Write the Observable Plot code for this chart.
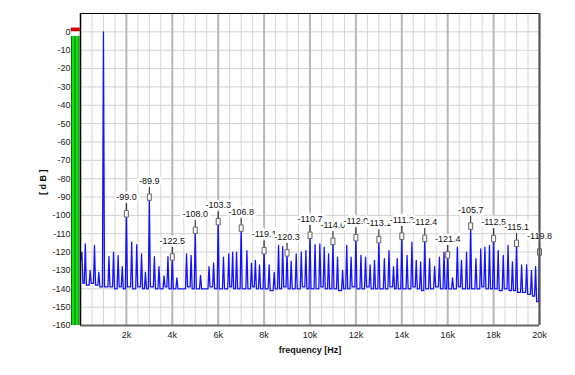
<!DOCTYPE html>
<html>
<head>
<meta charset="utf-8">
<script src="https://cdn.jsdelivr.net/npm/d3@7"></script>
<script src="https://cdn.jsdelivr.net/npm/@observablehq/plot@0.6"></script>
<style>
  html, body { margin: 0; padding: 0; background: #fff; }
  #chart svg { display: block; }
</style>
</head>
<body>
<div id="chart"></div>
<script>
// ---- data ----
// spectrum peaks (Hz, dB) and noise-floor level following each peak (dB)
const peakHz = [60, 210, 420, 610, 800, 1000, 1240, 1440, 1640, 1820,
  2000, 2230, 2450, 2660, 2830, 3000, 3220, 3420, 3640, 3810,
  4000, 4200, 4620, 4820, 5000, 5230, 5600, 5800, 6000, 6230,
  6460, 6630, 6800, 7000, 7250, 7450, 7620, 7800, 8000, 8220,
  8440, 8630, 8810, 9000, 9180, 9400, 9620, 9820, 10000, 10220,
  10430, 10620, 10810, 11000, 11200, 11420, 11600, 11790, 12000, 12220,
  12420, 12620, 12810, 13000, 13240, 13440, 13640, 13800, 14000, 14230,
  14440, 14630, 14820, 15000, 15210, 15430, 15640, 15840, 16000, 16210,
  16420, 16600, 16820, 17000, 17230, 17440, 17620, 17820, 18000, 18200,
  18420, 18630, 18820, 19000, 19220, 19440, 19650, 19830, 20000];
const peakDb = [-120, -115.5, -130, -116.4, -131, 0, -122.4, -120, -122, -128,
  -99.0, -114.6, -116, -121, -131, -89.9, -122.5, -128, -133, -122.5,
  -122.5, -134, -121, -121.8, -108.0, -132.7, -128, -126, -103.3, -122.8,
  -121, -120, -120, -106.8, -119.2, -126, -124.5, -127, -119.1, -127,
  -131, -116.4, -117, -120.3, -125, -121, -120, -119.2, -110.7, -115.9,
  -115.5, -117.3, -121, -114.0, -122.8, -130, -116.4, -122.8, -112.0, -121.8,
  -122.8, -127, -124.5, -113.1, -123.6, -119.2, -128, -123.6, -111.2, -121.8,
  -114.6, -124.5, -125.4, -112.4, -123.6, -128, -122.8, -120, -121.4, -134,
  -117.3, -124.5, -120, -105.7, -123.6, -118.3, -117.3, -116.4, -112.5, -119.2,
  -121.8, -116.4, -125.4, -115.1, -127, -127, -130, -128, -119.8];
const floorDb = [-137, -138, -137, -138, -139, -139, -139, -140, -139, -140,
  -139, -140, -139, -140, -140, -139, -140, -140, -139, -140,
  -140, -140, -139, -140, -140, -140, -139, -140, -140, -140,
  -139, -140, -140, -140, -140, -139, -140, -140, -140, -141,
  -140, -140, -139, -140, -140, -140, -139, -140, -140, -140,
  -139, -140, -140, -140, -141, -140, -140, -139, -140, -140,
  -139, -140, -140, -140, -140, -139, -140, -140, -140, -140,
  -139, -140, -141, -140, -140, -139, -140, -140, -140, -140,
  -139, -140, -140, -140, -140, -139, -140, -140, -140, -141,
  -140, -141, -141, -142, -142, -143, -144, -147];
const startDb = -125;

// labelled harmonics
const harmonicHz = [2000, 3000, 4000, 5000, 6000, 7000, 8000, 9000, 10000, 11000,
  12000, 13000, 14000, 15000, 16000, 17000, 18000, 19000, 20000];

// level meter
const meterDb = -2.5;
const clipDb = [0.2, 1.9];

// axes
const xDomain = [0, 20000];
const yDomain = [-160, 10];
const xTicks = [2000, 4000, 6000, 8000, 10000, 12000, 14000, 16000, 18000, 20000];
const xMinorGrid = d3.range(0, 20001, 500);
const yTicks = [0, -10, -20, -30, -40, -50, -60, -70, -80, -90, -100, -110, -120, -130, -140, -150, -160];
const yGrid = [10, 0, -10, -20, -30, -40, -50, -60, -70, -80, -90, -100, -110, -120, -130, -140, -150, -160];
const yTitle = "[ d B ]";
const yTitleAt = -82; // dB level at which the vertical title is centred
const xTitle = "frequency [Hz]";

// ---- build the trace (peak spikes over the floor) ----
const hw = 45; // drawing half-width of a spike in Hz
const trace = [{f: 0, db: startDb}];
peakHz.forEach((f, i) => {
  trace.push({f: f - hw, db: i === 0 ? startDb + 1 : floorDb[i - 1]});
  trace.push({f, db: peakDb[i]});
  if (i < peakHz.length - 1) trace.push({f: f + hw, db: floorDb[i]});
});
const labels = peakHz.map((f, i) => ({f, db: peakDb[i]})).filter(d => harmonicHz.includes(d.f));

const boxSymbol = {draw(ctx) { ctx.rect(-2, -3, 4, 6.5); }};
const stemSymbol = {draw(ctx) { ctx.moveTo(0, -3); ctx.lineTo(0, -10); }};

const chart = Plot.plot({
  width: 575,
  height: 375,
  marginLeft: 80,
  marginRight: 36,
  marginTop: 13,
  marginBottom: 50,
  style: {fontFamily: "'Liberation Sans', Arial, sans-serif", fontSize: "9px", color: "#222", background: "#fff"},
  x: {domain: xDomain, ticks: xTicks, tickFormat: d => d / 1000 + "k", tickSize: 0, tickPadding: 6, label: null},
  y: {domain: yDomain, ticks: yTicks, tickFormat: d => String(d), tickSize: 0, tickPadding: 10, label: null},
  marks: [
    Plot.ruleY(yGrid, {stroke: "#d2d2d2", strokeWidth: 1}),
    Plot.ruleX(xMinorGrid, {stroke: "#d6d6d6", strokeWidth: 1}),
    Plot.ruleX(xTicks, {stroke: "#b9b9b9", strokeWidth: 2}),
    Plot.line(trace, {x: "f", y: "db", stroke: "#1212ff", strokeWidth: 1.3}),
    Plot.dot(labels, {x: "f", y: "db", symbol: stemSymbol, stroke: "#222", strokeWidth: 1}),
    Plot.dot(labels, {x: "f", y: "db", symbol: boxSymbol, stroke: "#666", fill: "#f4f4f4", strokeWidth: 1}),
    Plot.text(labels, {x: "f", y: "db", text: d => d.db.toFixed(1), dy: -16, fill: "#111", stroke: "#fff", strokeWidth: 5, strokeLinejoin: "miter"}),
    // frame
    Plot.ruleY([yDomain[1]], {stroke: "#000", strokeWidth: 1}),
    Plot.ruleY([yDomain[0]], {stroke: "#666", strokeWidth: 2}),
    Plot.ruleX([xDomain[1]], {stroke: "#555", strokeWidth: 2}),
    Plot.ruleX([xDomain[0]], {stroke: "#000", strokeWidth: 1.5}),
    // level meter left of the frame
    Plot.rect([meterDb], {x1: xDomain[0], x2: xDomain[0], y1: yDomain[0], y2: d => d, insetLeft: -9, insetRight: 0.5, fill: "#0a6e0a"}),
    Plot.rect([meterDb], {x1: xDomain[0], x2: xDomain[0], y1: yDomain[0], y2: d => d, insetLeft: -8, insetRight: 5.5, fill: "#12e012"}),
    Plot.rect([meterDb], {x1: xDomain[0], x2: xDomain[0], y1: yDomain[0], y2: d => d, insetLeft: -4.5, insetRight: 1.5, fill: "#12e012"}),
    Plot.rect([clipDb], {x1: xDomain[0], x2: xDomain[0], y1: d => d[0], y2: d => d[1], insetLeft: -9, insetRight: 0.5, fill: "#e00000", stroke: "#900", strokeWidth: 0.5}),
    // axis titles
    Plot.text([xTitle], {frameAnchor: "bottom", dy: 27, fontWeight: "bold", fill: "#111"}),
    Plot.text([yTitle], {x: xDomain[0], y: () => yTitleAt, text: d => d, dx: -37, rotate: -90, fontWeight: "bold", fill: "#111"})
  ]
});
document.getElementById("chart").append(chart);
</script>
</body>
</html>
